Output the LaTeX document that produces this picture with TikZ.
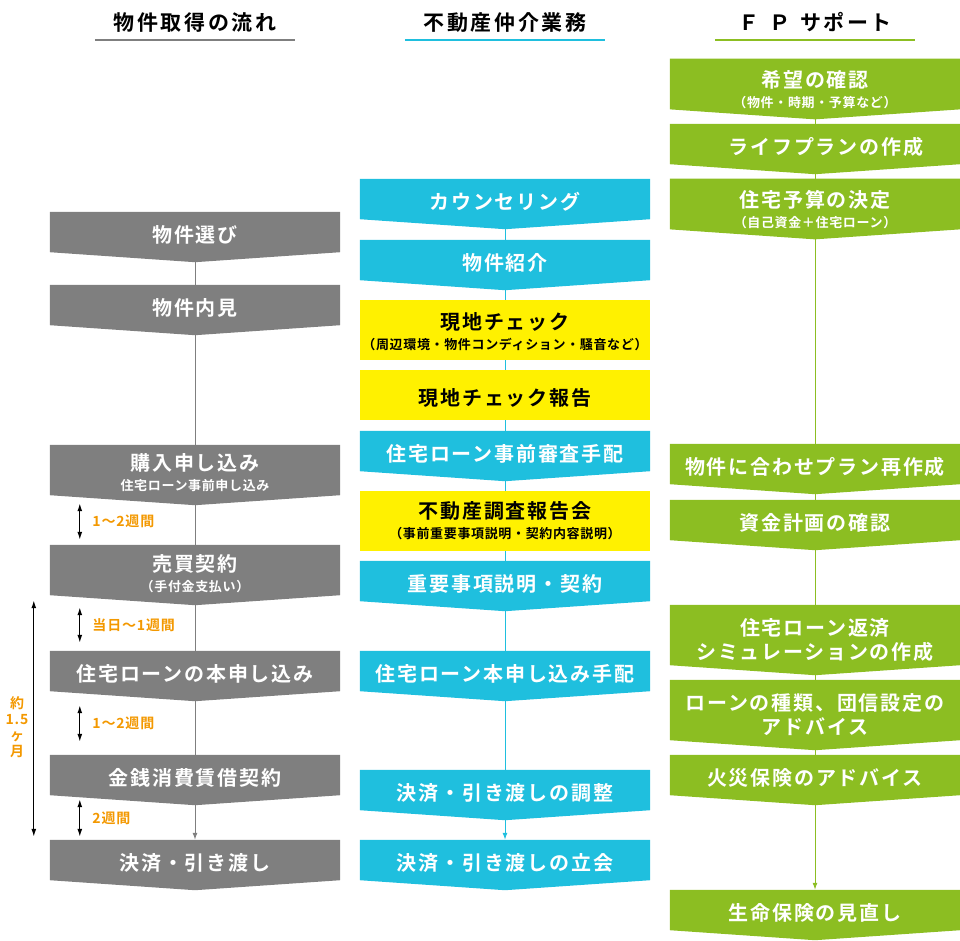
\documentclass[tikz,border=0pt]{standalone}
\usepackage{fontspec}
\newfontfamily\hdrfont{Noto Sans CJK JP Bold}[LetterSpace=12]
\newfontfamily\boxfont{Noto Sans CJK JP Bold}[LetterSpace=9]
\newfontfamily\subfont{Noto Sans CJK JP Bold}[LetterSpace=5]
\newfontfamily\notefont{Noto Sans CJK JP Bold}[LetterSpace=6]
\usetikzlibrary{arrows.meta,backgrounds}
\definecolor{flowgray}{HTML}{7F7F7F}
\definecolor{agentblue}{HTML}{1FBFDE}
\definecolor{fpgreen}{HTML}{8CBE22}
\definecolor{checkyellow}{HTML}{FFF100}
\definecolor{termorange}{HTML}{F39800}
\newcommand{\boxsub}[1]{{\subfont\fontsize{13pt}{16pt}\selectfont #1}}
\newcommand{\topgap}[1]{\rule{0pt}{#1}}
\begin{document}
\begin{tikzpicture}
[x=1pt, y=-1pt, >={Latex[length=8pt,width=5pt]},
 hdr/.style={minimum width=200pt, minimum height=30pt, inner sep=0pt,
   text height=14pt, text depth=4pt, font=\hdrfont\fontsize{21pt}{24pt}\selectfont},
 hline/.style={line width=2.5pt, draw=#1},
 chev/.style={rectangle, inner sep=0pt, minimum width=290pt, minimum height=40pt,
   text height=21pt, text depth=0pt, text=white, align=center,
   font=\boxfont\fontsize{20pt}{24pt}\selectfont,
   append after command={\pgfextra{\begin{pgfonlayer}{background}
     \fill[#1] (\tikzlastnode.north west) -- (\tikzlastnode.north east)
       -- (\tikzlastnode.south east) -- ([yshift=-10pt]\tikzlastnode.south)
       -- (\tikzlastnode.south west) -- cycle;
     \end{pgfonlayer}}}},
 checkbox/.style={rectangle, inner sep=0pt, minimum width=290pt, minimum height=50pt,
   text height=21pt, text depth=0pt, fill=checkyellow, text=black, align=center,
   font=\boxfont\fontsize{20pt}{24pt}\selectfont},
 twoline/.style={text height=, text depth=},
 link/.style={draw=#1, line width=1pt},
 dur/.style={<->, line width=1.3pt},
 durlbl/.style={inner sep=0pt, text=termorange, font=\notefont\fontsize{14pt}{16pt}\selectfont}]
\useasboundingbox (0,0) rectangle (960,940);

% column headers
\node (hdrFlow) at (195,25) [hdr] {物件取得の流れ};
\node (hdrAgent) at (505,25) [hdr] {不動産仲介業務};
\node (hdrFP) at (815,25) [hdr] {Ｆ\hspace{10pt}Ｐ\hspace{10pt}サポート};
\draw[hline=flowgray] (hdrFlow.south west) -- (hdrFlow.south east);
\draw[hline=agentblue] (hdrAgent.south west) -- (hdrAgent.south east);
\draw[hline=fpgreen] (hdrFP.south west) -- (hdrFP.south east);

% buyer's flow
\node (pick) at (195,232) [chev=flowgray] {物件選び};
\node (visit) at (195,305) [chev=flowgray] {物件内見};
\node (apply) at (195,470) [chev=flowgray, twoline, minimum height=50pt] {\topgap{23pt}購入申し込み\\[-4pt]\boxsub{住宅ローン事前申し込み}};
\node (sale) at (195,570) [chev=flowgray, twoline, minimum height=50pt] {\topgap{25pt}売買契約\\[-4pt]\boxsub{（手付金支払い）}};
\node (loanapp) at (195,671) [chev=flowgray] {住宅ローンの本申し込み};
\node (lend) at (195,775) [chev=flowgray] {金銭消費賃借契約};
\node (settle) at (195,860) [chev=flowgray] {決済・引き渡し};
\draw[link=flowgray] ([yshift=-10pt]pick.south) -- (visit.north);
\draw[link=flowgray] ([yshift=-10pt]visit.south) -- (apply.north);
\draw[link=flowgray] ([yshift=-10pt]apply.south) -- (sale.north);
\draw[link=flowgray] ([yshift=-10pt]sale.south) -- (loanapp.north);
\draw[link=flowgray] ([yshift=-10pt]loanapp.south) -- (lend.north);
\draw[link=flowgray, ->, >={Latex[length=7pt,width=5pt]}] ([yshift=-10pt]lend.south) -- (settle.north);

% durations
\draw[dur] ([xshift=30pt,yshift=-8pt]apply.south west) -- ([xshift=30pt,yshift=5pt]sale.north west)
  node (gapA) [durlbl, midway, right=12pt] {1～2週間};
\draw[dur] ([xshift=30pt,yshift=-12pt]sale.south west) -- ([xshift=30pt,yshift=8pt]loanapp.north west)
  node (gapB) [durlbl, midway, right=12pt] {当日～1週間};
\draw[dur] ([xshift=30pt,yshift=-14pt]loanapp.south west) -- ([xshift=30pt,yshift=13pt]lend.north west)
  node (gapC) [durlbl, midway, right=12pt] {1～2週間};
\draw[dur] ([xshift=30pt,yshift=-4pt]lend.south west) -- ([xshift=30pt,yshift=3pt]settle.north west)
  node (gapD) [durlbl, midway, right=12pt] {2週間};
\draw[dur] ([xshift=-16pt,yshift=-5pt]sale.south west) -- ([xshift=-16pt,yshift=3pt]settle.north west);
\node (months) at (17,727) [durlbl, align=center] {約\\1.5\\ヶ\\月};

% agent's work
\node (counsel) at (505,199) [chev=agentblue] {カウンセリング};
\node (intro) at (505,260) [chev=agentblue] {物件紹介};
\node (site) at (505,330) [checkbox, twoline, minimum height=60pt] {\topgap{21pt}現地チェック\\[-4pt]\boxsub{（周辺環境・物件コンディション・騒音など）}};
\node (sitereport) at (505,395) [checkbox] {現地チェック報告};
\node (prescreen) at (505,451) [chev=agentblue] {住宅ローン事前審査手配};
\node (survey) at (505,521) [checkbox, twoline, minimum height=60pt] {不動産調査報告会\\[-4pt]\boxsub{（事前重要事項説明・契約内容説明）}};
\node (explain) at (505,581) [chev=agentblue] {重要事項説明・契約};
\node (loanarr) at (505,671) [chev=agentblue] {住宅ローン本申し込み手配};
\node (settleadj) at (505,790) [chev=agentblue] {決済・引き渡しの調整};
\node (settleatt) at (505,860) [chev=agentblue] {決済・引き渡しの立会};
\draw[link=agentblue] ([yshift=-10pt]counsel.south) -- (intro.north);
\draw[link=agentblue] ([yshift=-10pt]intro.south) -- (site.north);
\draw[link=agentblue] (site.south) -- (sitereport.north);
\draw[link=agentblue] (sitereport.south) -- (prescreen.north);
\draw[link=agentblue] ([yshift=-10pt]prescreen.south) -- (survey.north);
\draw[link=agentblue] (survey.south) -- (explain.north);
\draw[link=agentblue] ([yshift=-10pt]explain.south) -- (loanarr.north);
\draw[link=agentblue] ([yshift=-10pt]loanarr.south) -- (settleadj.north);
\draw[link=agentblue, ->, >={Latex[length=7pt,width=5pt]}] ([yshift=-10pt]settleadj.south) -- (settleatt.north);

% FP support
\node (wish) at (815,84) [chev=fpgreen, twoline, minimum height=50pt] {\topgap{29pt}希望の確認\\[-4pt]\boxsub{（物件・時期・予算など）}};
\node (lifeplan) at (815,144) [chev=fpgreen] {　ライフプランの作成};
\node (budget) at (815,204) [chev=fpgreen, twoline, minimum height=50pt] {\topgap{29pt}住宅予算の決定\\[-4pt]\boxsub{（自己資金＋住宅ローン）}};
\node (replan) at (815,464) [chev=fpgreen] {物件に合わせプラン再作成};
\node (funds) at (815,520) [chev=fpgreen] {資金計画の確認};
\node (repay) at (815,635) [chev=fpgreen, twoline, minimum height=60pt] {\topgap{27pt}住宅ローン返済\\シミュレーションの作成};
\node (loantype) at (815,710) [chev=fpgreen, twoline, minimum height=60pt] {\topgap{27pt}ローンの種類、団信設定の\\アドバイス};
\node (fire) at (815,775) [chev=fpgreen] {火災保険のアドバイス};
\node (insure) at (815,910) [chev=fpgreen] {生命保険の見直し};
\draw[link=fpgreen] ([yshift=-10pt]wish.south) -- (lifeplan.north);
\draw[link=fpgreen] ([yshift=-10pt]lifeplan.south) -- (budget.north);
\draw[link=fpgreen] ([yshift=-10pt]budget.south) -- (replan.north);
\draw[link=fpgreen] ([yshift=-10pt]replan.south) -- (funds.north);
\draw[link=fpgreen] ([yshift=-10pt]funds.south) -- (repay.north);
\draw[link=fpgreen] ([yshift=-10pt]repay.south) -- (loantype.north);
\draw[link=fpgreen] ([yshift=-10pt]loantype.south) -- (fire.north);
\draw[link=fpgreen, ->, >={Latex[length=7pt,width=5pt]}] ([yshift=-10pt]fire.south) -- (insure.north);
\end{tikzpicture}
\end{document}
